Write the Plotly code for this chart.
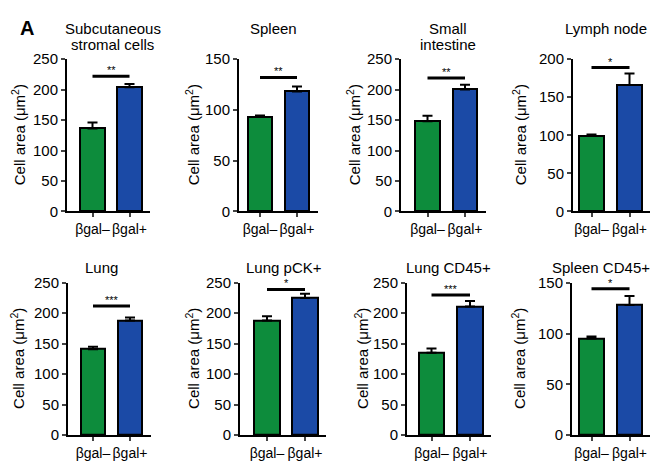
import plotly.graph_objects as go

# ---------------- data ----------------
panel_titles = ["Subcutaneous<br>stromal cells", "Spleen", "Small<br>intestine", "Lymph node",
                "Lung", "Lung pCK+", "Lung CD45+", "Spleen CD45+"]
groups = ["βgal–", "βgal+"]
neg_mean = [136, 93, 148, 99, 141, 188, 135, 95]
neg_err = [10, 1.5, 9, 2, 4, 7, 7, 2]
pos_mean = [204, 118, 200, 166, 188, 225, 211, 128]
pos_err = [5, 5, 8, 15, 5, 7, 9, 9]
sig_y = [222, 132, 219, 189, 212, 239, 230, 144]
sig_label = ["**", "**", "**", "*", "***", "*", "***", "*"]
y_max = [250, 150, 250, 200, 250, 250, 250, 150]
y_tick_step = 50

# ---------------- layout geometry (pixels) ----------------
W, H = 656, 471
axis_left = [67, 239, 401, 573, 68, 240, 407, 572]
green_c = [92.5, 260, 427.5, 591.5, 93, 267, 431.5, 591.5]
blue_c = [129.5, 297, 465, 629.5, 130, 305, 470, 629.5]
title_cx = [113, 273, 448, 606, 101, 284, 448, 601]
ytitle_cx = [18, 192, 353, 519, 18, 193, 362, 519]
row_top = [52, 284]
row_bot = [210, 442]
title_cy = [20, 268]
title_line_gap = 17

GREEN = "#0d8c3c"
BLUE = "#1b4aa6"
FONT = "Liberation Sans, Arial, sans-serif"

fig = go.Figure()
layout = dict(width=W, height=H, margin=dict(l=0, r=0, t=0, b=0),
              plot_bgcolor="white", paper_bgcolor="white", showlegend=False,
              font=dict(family=FONT, color="black", size=14),
              bargap=0, annotations=[])

for i in range(8):
    r = i // 4
    sfx = "" if i == 0 else str(i + 1)
    xa, ya = "x" + sfx, "y" + sfx
    u = blue_c[i] - green_c[i]
    L = axis_left[i]
    R = blue_c[i] + 12.5 + 8
    x0 = (L - green_c[i]) / u
    x1 = (R - green_c[i]) / u
    vals = [neg_mean[i], pos_mean[i]]
    errs = [neg_err[i], pos_err[i]]
    fig.add_trace(go.Bar(
        x=[0, 1], y=vals, width=0.66, xaxis=xa, yaxis=ya,
        marker=dict(color=[GREEN, BLUE], line=dict(color="black", width=2)),
        error_y=dict(type="data", symmetric=False, array=errs, arrayminus=[0, 0],
                     color="black", thickness=2, width=5),
    ))
    fig.add_trace(go.Scatter(
        x=[0, 1], y=[sig_y[i], sig_y[i]], mode="lines", xaxis=xa, yaxis=ya,
        line=dict(color="black", width=3), hoverinfo="skip", cliponaxis=False,
    ))
    layout["xaxis" + sfx] = dict(
        domain=[L / W, R / W], range=[x0, x1], anchor=ya,
        tickvals=[0, 1], ticktext=groups, ticks="outside", ticklen=4, tickwidth=2,
        showline=True, linecolor="black", linewidth=2, showgrid=False, zeroline=False,
        tickfont=dict(size=14), fixedrange=True,
    )
    layout["yaxis" + sfx] = dict(
        domain=[1 - row_bot[r] / H, 1 - row_top[r] / H], range=[0, y_max[i]], anchor=xa,
        tickvals=list(range(0, y_max[i] + 1, y_tick_step)), ticks="outside", ticklen=4, tickwidth=2,
        showline=True, linecolor="black", linewidth=2, showgrid=False, zeroline=False,
        tickfont=dict(size=15), fixedrange=True,
    )
    # star label
    layout["annotations"].append(dict(
        x=0.5, y=sig_y[i], xref=xa, yref=ya, text=sig_label[i], showarrow=False,
        yanchor="bottom", font=dict(size=11), yshift=-2,
    ))
    # panel title (one annotation per line)
    for k, line in enumerate(panel_titles[i].split("<br>")):
        layout["annotations"].append(dict(
            x=title_cx[i] / W, y=1 - (title_cy[r] + k * title_line_gap) / H,
            xref="paper", yref="paper", text=line, showarrow=False,
            xanchor="center", yanchor="middle", font=dict(size=15),
        ))
    # y-axis title
    layout["annotations"].append(dict(
        x=ytitle_cx[i] / W, y=1 - (row_top[r] + row_bot[r]) / 2 / H, xref="paper", yref="paper",
        text="Cell area (μm<sup>2</sup>)", showarrow=False, textangle=-90,
        xanchor="center", yanchor="middle", font=dict(size=15),
    ))

layout["annotations"].append(dict(
    x=27 / W, y=1 - 20 / H, xref="paper", yref="paper", text="<b>A</b>",
    showarrow=False, xanchor="center", yanchor="middle", font=dict(size=20),
))

fig.update_layout(**layout)
fig.write_html("out.html", config={"displayModeBar": False},
               post_script="document.body.style.margin='0px';")
